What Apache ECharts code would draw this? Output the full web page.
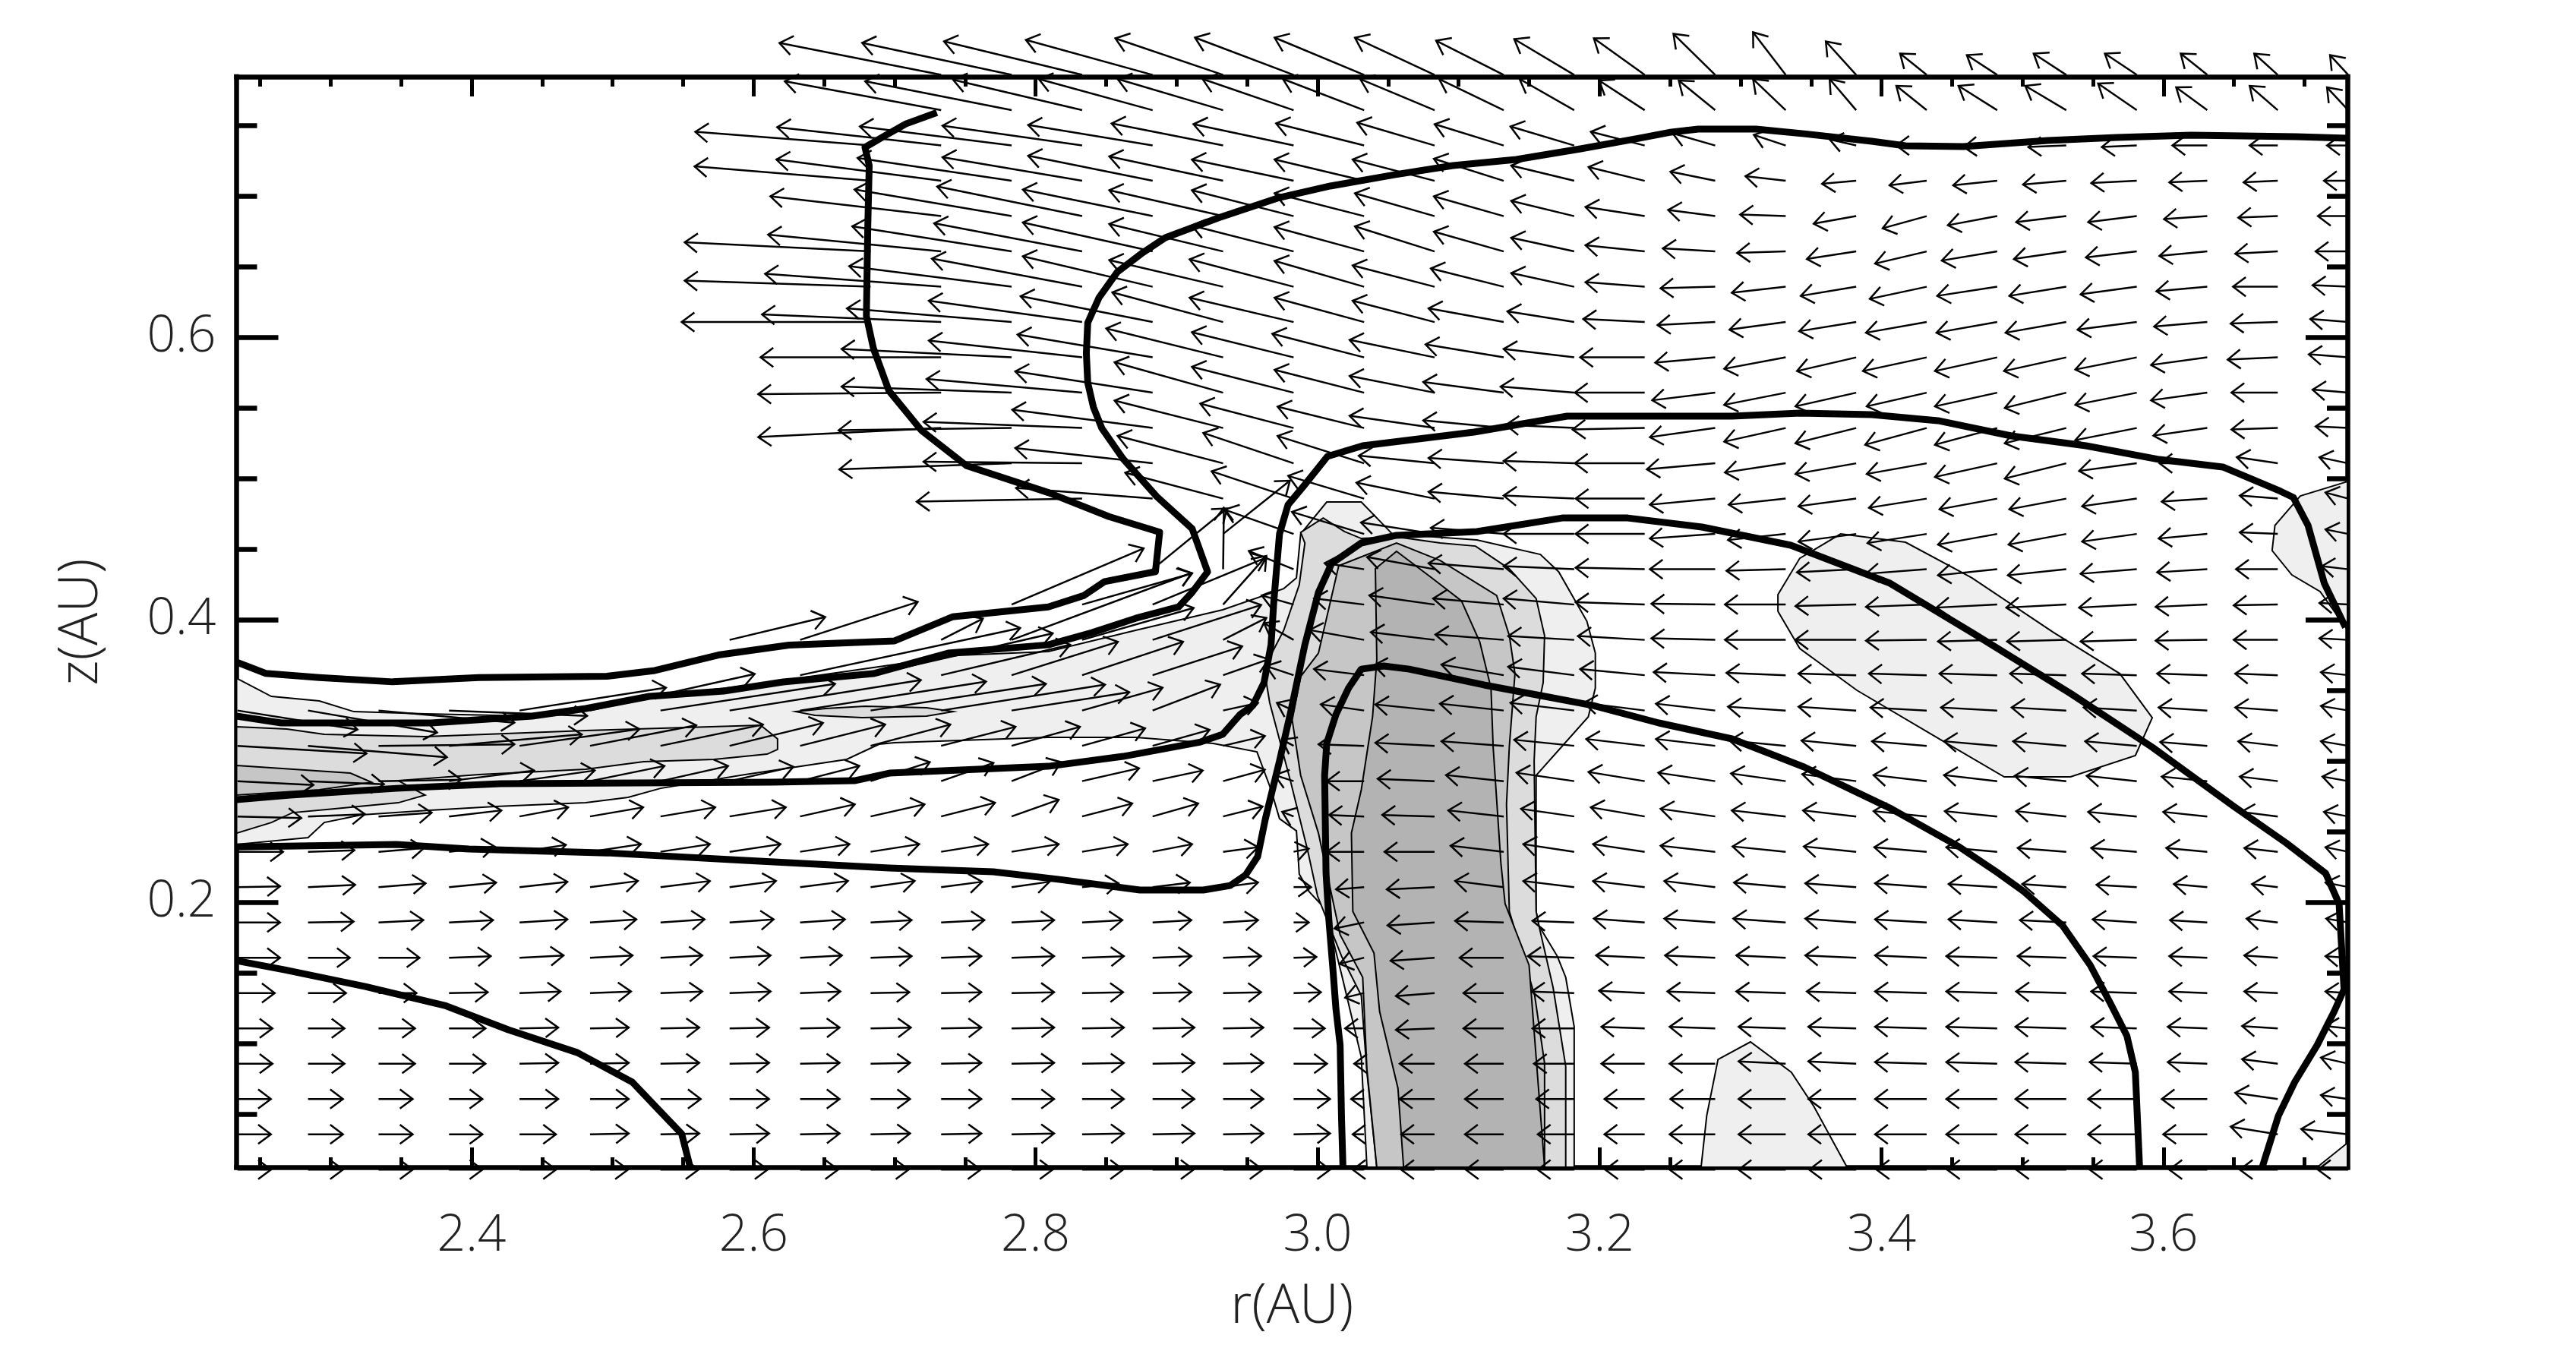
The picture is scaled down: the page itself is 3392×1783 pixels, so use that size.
<!DOCTYPE html>
<html><head><meta charset="utf-8">
<style>html,body{margin:0;padding:0;background:#fff}#c{width:3392px;height:1783px}</style>
<script src="https://cdn.jsdelivr.net/npm/echarts@6/dist/echarts.min.js"></script>
</head><body><div id="c"></div>
<script>
const rRange=[2.2333,3.7304], zRange=[0.0124,0.7844];
const rMajor=[2.4,2.6,2.8,3.0,3.2,3.4,3.6];
const rMinor=[2.25,2.3,2.35,2.45,2.5,2.55,2.65,2.7,2.75,2.85,2.9,2.95,3.05,3.1,3.15,3.25,3.3,3.35,3.45,3.5,3.55,3.65,3.7];
const zMajor=[0.2,0.4,0.6];
const zMinor=[0.05,0.1,0.15,0.25,0.3,0.35,0.45,0.5,0.55,0.65,0.7,0.75];
const colR=[2.234,2.284,2.334,2.384,2.434,2.484,2.534,2.583,2.633,2.683,2.733,2.783,2.833,2.883,2.933,2.983,3.033,3.083,3.132,3.182,3.232,3.282,3.332,3.382,3.432,3.482,3.531,3.581,3.631,3.681,3.731];
const rowZ=[.7857,.7607,.7357,.7107,.6857,.6607,.6357,.6107,.5857,.5607,.5357,.5107,.4857,.4607,.4357,.4107,.3857,.3607,.3357,.3107,.2857,.2607,.2357,.2107,.1857,.1607,.1357,.1107,.0857,.0607,.0357,.0107];
const arrowUnit=1/1858;
const uRows=[
[0,0,0,0,0,0,0,0,0,0,-213,-197,-182,-167,-142,-130,-118,-105,-89,-79,-67,-55,-43,-40,-35,-40,-43,-42,-35,-31,-24],
[0,0,0,0,0,0,0,0,0,0,-206,-193,-170,-150,-139,-120,-107,-98,-85,-72,-60,-48,-43,-35,-40,-51,-54,-51,-41,-37,-28],
[0,0,0,0,0,0,0,0,0,-231,-216,-200,-184,-164,-147,-132,-116,-102,-91,-84,-71,-56,-42,-35,-40,-44,-50,-46,-46,-37,-28],
[0,0,0,0,0,0,0,0,0,-232,-217,-203,-184,-164,-150,-134,-118,-108,-92,-83,-74,-59,-53,-45,-49,-58,-57,-60,-50,-45,-32],
[0,0,0,0,0,0,0,0,0,0,-225,-207,-191,-171,-150,-134,-118,-105,-92,-83,-78,-62,-60,-56,-58,-65,-66,-64,-57,-52,-40],
[0,0,0,0,0,0,0,0,0,-245,-228,-210,-195,-171,-150,-134,-118,-105,-92,-83,-78,-69,-64,-65,-68,-73,-69,-67,-63,-56,-43],
[0,0,0,0,0,0,0,0,0,-245,-232,-214,-198,-171,-150,-137,-118,-108,-96,-83,-78,-72,-71,-73,-75,-79,-75,-74,-67,-59,-47],
[0,0,0,0,0,0,0,0,0,-249,-236,-217,-202,-174,-146,-137,-118,-108,-99,-88,-81,-76,-74,-75,-80,-80,-80,-78,-70,-62,-50],
[0,0,0,0,0,0,0,0,0,0,-238,-224,-202,-178,-154,-134,-121,-112,-103,-93,-85,-79,-81,-78,-84,-82,-82,-81,-74,-66,-52],
[0,0,0,0,0,0,0,0,0,0,-241,-224,-205,-181,-143,-134,-118,-112,-106,-97,-92,-83,-81,-80,-79,-82,-81,-81,-74,-61,-47],
[0,0,0,0,0,0,0,0,0,0,-241,-228,-209,-185,-143,-123,-114,-112,-106,-90,-95,-86,-81,-80,-81,-82,-81,-81,-71,-61,-43],
[0,0,0,0,0,0,0,0,0,0,0,-227,-209,-181,-139,-119,-114,-100,-99,-93,-92,-90,-80,-80,-79,-82,-81,-76,-63,-54,-38],
[0,0,0,0,0,0,0,0,0,0,0,0,-218,-180,-129,-108,-100,-103,-99,-93,-91,-86,-75,-76,-76,-76,-75,-72,-60,-50,-30],
[0,0,0,0,0,0,0,0,0,0,0,0,0,0,88,-91,-95,-97,-96,-93,-91,-86,-76,-76,-78,-78,-76,-72,-64,-50,-30],
[0,0,0,0,0,0,0,0,0,0,0,0,0,98,1,-59,-52,-89,-99,-93,-91,-86,-78,-78,-80,-78,-77,-74,-66,-55,-35],
[0,0,0,0,0,0,0,0,0,0,0,174,145,150,57,-42,-66,-86,-93,-93,-91,-84,-80,-80,-80,-80,-79,-76,-68,-58,-38],
[0,0,0,0,0,0,0,126,155,0,55,237,147,143,57,-39,-72,-84,-90,-87,-88,-84,-80,-80,-80,-78,-78,-74,-68,-58,-38],
[0,0,0,0,0,0,0,0,290,240,170,140,133,118,60,-36,-66,-80,-82,-87,-85,-81,-78,-76,-76,-76,-74,-72,-66,-56,-36],
[158,170,179,182,193,217,230,252,245,231,216,155,106,89,46,-22,-57,-78,-84,-84,-80,-78,-76,-76,-74,-74,-72,-70,-64,-56,-36],
[170,183,179,175,158,140,135,123,112,105,98,90,83,75,55,-15,-60,-78,-82,-79,-77,-78,-74,-72,-72,-70,-70,-68,-62,-52,-36],
[100,100,109,112,99,98,89,84,78,78,69,65,75,66,55,-25,-49,-75,-76,-76,-74,-75,-72,-71,-70,-70,-68,-66,-60,-50,-34],
[84,75,70,69,64,70,72,74,72,71,71,62,66,60,52,-15,-46,-69,-73,-70,-71,-72,-71,-70,-70,-69,-66,-64,-58,-48,-32],
[60,61,60,60,61,67,65,67,65,64,62,62,60,52,46,20,-49,-66,-70,-67,-68,-72,-70,-69,-69,-67,-64,-60,-54,-44,-30],
[56,62,62,62,63,63,65,61,63,58,54,50,48,49,46,23,-37,-63,-64,-67,-68,-67,-68,-67,-68,-64,-58,-53,-44,-34,-30],
[56,60,59,58,63,61,58,58,59,54,57,56,53,51,46,20,-39,-62,-64,-55,-67,-67,-69,-67,-68,-64,-61,-58,-49,-41,-29],
[56,55,54,55,58,56,55,54,55,54,53,56,55,51,50,30,-32,-58,-58,-61,-64,-66,-65,-67,-68,-67,-64,-57,-50,-44,-30],
[49,50,50,51,54,54,55,54,53,51,53,56,54,51,50,36,-25,-51,-53,-56,-60,-63,-65,-65,-68,-67,-66,-60,-50,-44,-30],
[46,48,48,48,51,51,51,52,52,53,53,56,55,55,53,41,-25,-51,-53,-55,-57,-60,-62,-63,-68,-67,-67,-60,-52,-47,-30],
[46,48,48,48,51,51,51,52,52,52,53,56,55,55,53,44,-13,-46,-51,-53,-57,-60,-62,-63,-68,-67,-67,-62,-52,-47,-36],
[44,46,45,44,51,51,53,52,52,52,53,56,55,55,53,48,-17,-46,-51,-50,-53,-59,-62,-63,-68,-67,-67,-64,-60,-56,-36],
[44,46,45,44,48,51,51,52,52,52,53,56,55,55,53,48,-15,-44,-51,-48,-53,-60,-62,-63,-68,-67,-67,-64,-58,-62,-62],
[44,46,45,44,48,50,50,50,50,50,52,54,54,54,52,48,-15,-44,-50,-48,-52,-60,-62,-62,-66,-66,-66,-62,-50,-50,-40]
];
const vRows=[
[0,0,0,0,0,0,0,0,0,0,42,42,44,46,48,49,49,49,45,47,48,54,56,44,28,26,28,28,28,28,26],
[0,0,0,0,0,0,0,0,0,0,38,38,40,41,41,41,41,41,41,41,39,39,41,41,32,32,32,35,30,32,30],
[0,0,0,0,0,0,0,0,0,18,24,25,26,27,29,28,29,30,28,25,18,16,14,8,0,-2,-2,-2,0,0,0],
[0,0,0,0,0,0,0,0,0,19,28,30,31,33,32,28,28,28,29,20,18,12,6,-4,-6,-6,-5,-3,-2,-2,0],
[0,0,0,0,0,0,0,0,0,0,26,35,39,35,34,34,30,30,26,20,12,8,2,-10,-16,-12,-8,-8,-4,-2,0],
[0,0,0,0,0,0,0,0,0,12,22,33,37,38,36,34,32,33,26,18,8,4,-2,-10,-16,-12,-10,-8,-6,-3,0],
[0,0,0,0,0,0,0,0,0,8,17,27,37,40,35,36,34,28,24,18,6,-2,-8,-12,-16,-12,-12,-10,-6,0,2],
[0,0,0,0,0,0,0,0,0,0,10,18,28,34,39,32,32,28,18,14,4,-4,-10,-12,-14,-14,-14,-10,-6,-2,4],
[0,0,0,0,0,0,0,0,0,0,0,11,22,30,38,33,31,23,17,11,0,-7,-15,-18,-18,-18,-18,-16,-10,-3,4],
[0,0,0,0,0,0,0,0,0,0,-2,8,18,28,40,34,30,22,14,8,0,-10,-16,-18,-18,-18,-20,-16,-10,0,4],
[0,0,0,0,0,0,0,0,0,0,-12,-3,8,24,36,32,28,16,10,4,-2,-12,-18,-20,-22,-22,-20,-16,-10,-2,2],
[0,0,0,0,0,0,0,0,0,0,0,-8,2,20,36,40,36,10,7,3,0,-8,-12,-14,-14,-18,-20,-10,0,8,8],
[0,0,0,0,0,0,0,0,0,0,0,0,-4,14,34,36,30,21,9,4,0,-8,-8,-10,-12,-14,-14,-10,-4,4,8],
[0,0,0,0,0,0,0,0,0,0,0,0,0,0,70,32,29,15,8,0,0,-6,-8,-10,-12,-14,-14,-10,-6,2,6],
[0,0,0,0,0,0,0,0,0,0,0,0,0,80,81,24,8,16,8,4,2,0,-2,-4,-6,-8,-8,-6,-4,0,4],
[0,0,0,0,0,0,0,0,0,0,0,74,41,62,64,12,8,12,8,8,3,1,0,-2,-3,-4,-4,-4,-3,-1,2],
[0,0,0,0,0,0,0,30,50,0,28,88,42,46,29,22,13,10,7,5,5,2,0,0,-1,-2,-2,-2,-1,0,2],
[0,0,0,0,0,0,0,0,62,55,40,44,44,38,21,12,8,13,14,11,8,4,3,2,2,2,2,2,2,2,4],
[-25,-29,-16,-7,30,48,35,40,38,35,34,24,30,34,10,10,8,8,9,10,10,9,5,5,4,4,4,4,4,4,6],
[-10,-15,2,15,22,27,28,30,28,28,25,25,23,21,13,8,2,4,6,8,9,9,7,7,6,6,6,6,5,6,6],
[-5,-4,2,14,14,20,20,19,20,25,24,25,17,14,15,8,0,3,8,11,12,11,10,9,8,8,7,7,6,6,6],
[-2,3,5,8,12,12,12,12,16,16,18,22,17,17,13,6,2,2,8,10,12,10,8,8,7,7,7,6,6,6,6],
[0,2,5,7,9,10,10,10,10,10,10,10,10,10,6,4,0,0,8,10,10,8,7,7,6,6,5,5,5,5,6],
[1,3,5,6,7,8,8,8,8,8,7,7,5,6,6,0,-3,-3,8,8,8,8,6,5,5,4,4,3,4,4,6],
[0,1,3,3,4,4,4,4,4,3,3,3,3,3,3,0,-8,-4,2,2,5,5,5,5,4,4,3,4,3,5,5],
[0,0,0,2,3,3,3,3,3,2,2,2,2,2,2,1,-8,-4,0,2,3,3,3,3,3,2,2,2,2,3,2],
[0,0,0,1,2,2,2,2,2,1,1,1,1,1,1,1,-6,-4,0,2,3,2,2,2,2,2,2,2,2,2,2],
[0,0,0,0,1,1,1,1,1,1,1,1,1,1,1,0,0,-2,0,0,2,2,2,2,2,2,2,2,2,3,3],
[0,0,0,0,1,1,1,1,1,1,1,1,1,1,1,0,0,0,0,0,0,0,3,3,2,2,2,2,2,6,8],
[0,0,0,0,0,0,0,0,0,0,0,0,0,0,0,0,0,0,0,0,0,0,0,0,0,0,0,0,0,8,5],
[0,0,0,0,0,1,1,1,1,1,1,1,1,1,1,1,0,0,0,0,0,0,0,0,0,0,0,0,0,10,7],
[0,0,0,0,0,0,0,0,0,0,0,0,0,0,0,0,0,0,0,0,0,0,0,0,0,0,0,0,0,0,0]
];
const contourA=[[2.730,.759],[2.708,.751],[2.693,.7425],[2.679,.7344],[2.682,.7215],[2.681,.679],[2.680,.615],[2.685,.592],[2.696,.562],[2.719,.534],[2.751,.509],[2.809,.490],[2.852,.473],[2.888,.462],[2.885,.434],[2.849,.427],[2.834,.417],[2.809,.409],[2.741,.402],[2.700,.385],[2.625,.382],[2.575,.375],[2.530,.364],[2.496,.360],[2.405,.359],[2.344,.356],[2.292,.359],[2.254,.362],[2.2333,.370]];
const contourB=[[3.7304,.7409],[3.694,.7419],[3.6195,.743],[3.567,.7414],[3.518,.7392],[3.458,.735],[3.417,.7355],[3.393,.7387],[3.345,.744],[3.311,.7473],[3.270,.7473],[3.251,.7452],[3.2285,.7409],[3.1865,.7333],[3.141,.7258],[3.096,.7215],[3.0545,.715],[3.009,.707],[2.9715,.6984],[2.9295,.6844],[2.892,.6704],[2.875,.6591],[2.858,.6462],[2.845,.628],[2.837,.6102],[2.836,.5887],[2.837,.5677],[2.841,.5505],[2.847,.5355],[2.862,.514],[2.886,.4871],[2.911,.4645],[2.922,.4339],[2.911,.4193],[2.9015,.4091],[2.871,.401],[2.840,.3908],[2.809,.3822],[2.738,.3763],[2.685,.3618],[2.621,.3559],[2.579,.3495],[2.526,.3457],[2.481,.3371],[2.443,.3317],[2.3715,.3269],[2.265,.3269],[2.2333,.3317]];
const contourC=[[2.2333,.2726],[2.2713,.2758],[2.3467,.2806],[2.4205,.2839],[2.6133,.2849],[2.6715,.286],[2.6963,.2914],[2.809,.2962],[2.862,.3032],[2.917,.3134],[2.9327,.3188],[2.945,.3328],[2.954,.3392],[2.962,.3554],[2.967,.3823],[2.969,.4134],[2.973,.4607],[2.979,.4812],[2.991,.4957],[3.007,.5156],[3.032,.5231],[3.111,.5328],[3.177,.5441],[3.294,.5441],[3.342,.5462],[3.393,.5452],[3.440,.5409],[3.492,.5301],[3.545,.5231],[3.597,.5134],[3.642,.5081],[3.683,.4909],[3.692,.4866],[3.7025,.4667],[3.714,.4258],[3.729,.3946]];
const contourD=[[2.2333,.2392],[2.3467,.2409],[2.398,.2376],[2.496,.2349],[2.594,.2296],[2.696,.2242],[2.770,.2215],[2.817,.2161],[2.874,.2086],[2.919,.2086],[2.938,.2118],[2.949,.2193],[2.9575,.2323],[2.963,.2591],[2.973,.30],[2.981,.3349],[2.991,.3823],[3.0006,.4193],[3.010,.4398],[3.031,.4543],[3.056,.4597],[3.113,.4624],[3.1735,.472],[3.220,.472],[3.2726,.4656],[3.3356,.4527],[3.406,.4258],[3.464,.3909],[3.534,.3478],[3.592,.3097],[3.650,.2677],[3.687,.2419],[3.715,.2204],[3.7245,.1989],[3.728,.1382],[3.721,.1226],[3.709,.0989],[3.693,.0726],[3.6815,.0489],[3.672,.0188],[3.670,.0124]];
const contourE=[[3.018,.0124],[3.017,.0468],[3.016,.0989],[3.013,.1247],[3.011,.1511],[3.008,.1876],[3.006,.2204],[3.005,.2898],[3.0065,.3124],[3.013,.3328],[3.022,.3516],[3.031,.365],[3.047,.3672],[3.065,.365],[3.118,.3538],[3.164,.3452],[3.1956,.3392],[3.242,.3269],[3.294,.3156],[3.345,.2957],[3.407,.2661],[3.455,.2392],[3.483,.2204],[3.501,.2075],[3.5285,.1833],[3.548,.1554],[3.562,.129],[3.574,.1054],[3.580,.0796],[3.583,.0124]];
const contourF=[[2.2333,.1586],[2.2675,.1521],[2.3246,.1403],[2.381,.1269],[2.426,.1097],[2.475,.0935],[2.514,.0726],[2.5325,.0532],[2.549,.036],[2.555,.0124]];
const level1Main=[[2.2333,.3586],[2.258,.3457],[2.292,.3425],[2.3165,.3349],[2.367,.3333],[2.443,.3317],[2.530,.3457],[2.594,.3532],[2.670,.364],[2.745,.3747],[2.809,.3774],[2.871,.3925],[2.9327,.407],[2.976,.422],[2.985,.4296],[2.988,.4607],[3.0065,.4833],[3.031,.4833],[3.053,.4607],[3.113,.4564],[3.158,.4462],[3.171,.4339],[3.191,.3989],[3.197,.3763],[3.197,.3516],[3.192,.3312],[3.155,.2898],[3.155,.1935],[3.157,.1833],[3.170,.1618],[3.176,.1468],[3.182,.1118],[3.182,.0124],[3.035,.0124],[3.031,.0903],[3.017,.1489],[3.0055,.1952],[2.994,.2075],[2.987,.2199],[2.985,.2505],[2.973,.2591],[2.967,.2796],[2.957,.3064],[2.926,.3124],[2.871,.3167],[2.809,.3167],[2.700,.3129],[2.689,.3118],[2.666,.3011],[2.594,.2903],[2.534,.2806],[2.511,.2742],[2.481,.2704],[2.417,.2677],[2.368,.265],[2.322,.2618],[2.2955,.2564],[2.284,.2457],[2.2333,.2409]];
const level1BlobUpper=[[3.3265,.4177],[3.342,.4435],[3.371,.4607],[3.417,.4548],[3.464,.4296],[3.522,.3909],[3.569,.3618],[3.592,.3306],[3.580,.3038],[3.534,.2887],[3.487,.2887],[3.441,.3156],[3.3825,.35],[3.342,.3796],[3.3265,.4059]];
const level1BlobLower=[[3.272,.0124],[3.276,.0489],[3.284,.0887],[3.307,.1011],[3.336,.0796],[3.352,.0554],[3.3755,.0124]];
const level1BlobRight=[[3.7304,.4978],[3.697,.4876],[3.679,.4667],[3.677,.4489],[3.691,.4317],[3.711,.4199],[3.7304,.393]];
const level1Corner=[[3.709,.0124],[3.7304,.0296],[3.7304,.0124]];
const level2Band=[[2.2333,.3242],[2.269,.3226],[2.2955,.3188],[2.367,.3172],[2.481,.3215],[2.605,.3253],[2.617,.3156],[2.617,.3081],[2.6096,.3048],[2.572,.3011],[2.522,.2995],[2.481,.2941],[2.405,.2903],[2.348,.286],[2.367,.2758],[2.348,.2704],[2.303,.2661],[2.273,.2634],[2.258,.2564],[2.2333,.2489]];
const level2Lens=[[2.630,.3349],[2.651,.3371],[2.679,.3387],[2.7227,.3376],[2.7415,.3349],[2.7227,.3317],[2.677,.3306],[2.6435,.3323]];
const level2Plume=[[2.988,.4618],[3.004,.472],[3.019,.4624],[3.031,.4575],[3.056,.4586],[3.087,.4543],[3.112,.4521],[3.136,.436],[3.155,.415],[3.161,.3887],[3.160,.3554],[3.155,.3312],[3.1536,.30],[3.155,.1935],[3.157,.1833],[3.167,.1398],[3.176,.0839],[3.176,.0124],[3.042,.0124],[3.035,.0796],[3.031,.1339],[3.017,.1618],[3.000,.2043],[2.993,.2365],[2.981,.2849],[2.966,.3414],[2.962,.3656],[2.976,.3925],[2.987,.4247],[2.991,.4543]];
const level3Plume=[[3.015,.4382],[3.056,.4543],[3.087,.4419],[3.127,.4172],[3.136,.3887],[3.140,.3618],[3.136,.3102],[3.134,.2694],[3.136,.1935],[3.154,.1339],[3.161,.086],[3.161,.0124],[3.042,.0124],[3.035,.0817],[3.032,.1468],[3.016,.1769],[3.0006,.2489],[2.988,.2898],[2.982,.329],[2.988,.3597],[3.0006,.3763]];
const level3Band=[[2.2333,.2968],[2.314,.2914],[2.329,.2849],[2.292,.2796],[2.2333,.2758]];
const level4Plume=[[3.056,.4484],[3.041,.436],[3.042,.372],[3.039,.3312],[3.031,.2796],[3.024,.2489],[3.025,.1935],[3.040,.164],[3.044,.1226],[3.057,.0683],[3.061,.0124],[3.161,.0124],[3.155,.0903],[3.150,.1554],[3.133,.1989],[3.130,.2279],[3.1245,.3102],[3.123,.3516],[3.115,.3844],[3.102,.4134],[3.081,.4296]];
const regions=[
 [level1Main,'#efefef'],[level1BlobUpper,'#efefef'],[level1BlobLower,'#efefef'],[level1BlobRight,'#efefef'],[level1Corner,'#efefef'],
 [level2Band,'#dcdcdc'],[level2Lens,'#dcdcdc'],[level2Plume,'#dcdcdc'],
 [level3Band,'#c6c6c6'],[level3Plume,'#c6c6c6'],[level4Plume,'#b3b3b3']
];
const contours=[contourA,contourB,contourC,contourD,contourE,contourF];
const arrows=[];
rowZ.forEach((z,k)=>colR.forEach((r,j)=>{const u=uRows[k][j],v=vRows[k][j];if(u||v)arrows.push([r,z,u,v]);}));

const BLACK='#000';
const font={fontFamily:'Open Sans',fontSize:66,color:'#222',fontWeight:300};
const nameFont={fontFamily:'Open Sans',fontSize:72,color:'#222',fontWeight:300};
function axisX(pos,vals,len,w,labels,line){return {type:'value',position:pos,min:rRange[0],max:rRange[1],scale:true,splitLine:{show:false},
 axisLine:{show:line,onZero:false,lineStyle:{color:BLACK,width:6.5,cap:'square'}},
 axisTick:{show:true,inside:true,length:len,customValues:vals,lineStyle:{color:BLACK,width:w}},
 axisLabel:labels?{show:true,customValues:vals,margin:58,formatter:v=>Number(v).toFixed(1),...font}:{show:false}};}
function axisY(pos,vals,len,w,labels,line){return {type:'value',position:pos,min:zRange[0],max:zRange[1],scale:true,splitLine:{show:false},
 axisLine:{show:line,onZero:false,lineStyle:{color:BLACK,width:6.5,cap:'square'}},
 axisTick:{show:true,inside:true,length:len,customValues:vals,lineStyle:{color:BLACK,width:w}},
 axisLabel:labels?{show:true,customValues:vals,margin:27,padding:[12,0,0,0],formatter:v=>Number(v).toFixed(1),...font}:{show:false}};}
const xAxes=[axisX('bottom',rMajor,26,5,true,true),axisX('top',rMajor,26,5,false,true),axisX('bottom',rMinor,13,5,false,false),axisX('top',rMinor,13,5,false,false)];
Object.assign(xAxes[0],{name:'r(AU)',nameLocation:'middle',nameGap:148,nameTextStyle:{...nameFont}});
const yAxes=[axisY('left',zMajor,55,6.5,true,true),axisY('right',zMajor,55,6.5,false,true),axisY('left',zMinor,27,6.5,false,false),axisY('right',zMinor,27,6.5,false,false)];
Object.assign(yAxes[0],{name:'z(AU)',nameLocation:'middle',nameGap:168,nameRotate:90,nameTextStyle:{...nameFont}});

const series=[{type:'custom',coordinateSystem:'cartesian2d',xAxisIndex:0,yAxisIndex:0,z:1,silent:true,animation:false,clip:false,
 data:regions.map((_,i)=>[i]),encode:{x:-1,y:-1},
 renderItem:(p,api)=>{const [pts,fill]=regions[api.value(0)];return {type:'polygon',shape:{points:pts.map(q=>api.coord(q))},style:{fill,stroke:BLACK,lineWidth:2}};}},
 {type:'custom',coordinateSystem:'cartesian2d',xAxisIndex:0,yAxisIndex:0,z:3,silent:true,animation:false,clip:false,progressive:0,
 data:arrows,encode:{x:0,y:1},
 renderItem:(p,api)=>{
  const r=api.value(0),z=api.value(1),u=api.value(2),v=api.value(3);
  const a=api.coord([r,z]),b=api.coord([r+u*arrowUnit,z+v*arrowUnit]);
  const t=Math.atan2(b[1]-a[1],b[0]-a[0]),L=21,S=2.5;
  const h1=[b[0]+L*Math.cos(t+S),b[1]+L*Math.sin(t+S)],h2=[b[0]+L*Math.cos(t-S),b[1]+L*Math.sin(t-S)];
  const st={stroke:BLACK,lineWidth:2.5,fill:null};
  return {type:'group',children:[{type:'polyline',shape:{points:[a,b]},style:st},{type:'polyline',shape:{points:[h1,b,h2]},style:st}]};
 }}];
contours.forEach(c=>series.push({type:'line',xAxisIndex:0,yAxisIndex:0,data:c,z:4,showSymbol:false,symbol:'none',silent:true,animation:false,clip:false,smooth:false,lineStyle:{color:BLACK,width:9,join:'round'}}));

const chart=echarts.init(document.getElementById('c'),null,{renderer:'canvas'});
chart.setOption({animation:false,backgroundColor:'#fff',
 grid:{left:311.5,right:301,top:101,bottom:246,containLabel:false,show:false},
 xAxis:xAxes,yAxis:yAxes,series,tooltip:{show:false}});
</script></body></html>
